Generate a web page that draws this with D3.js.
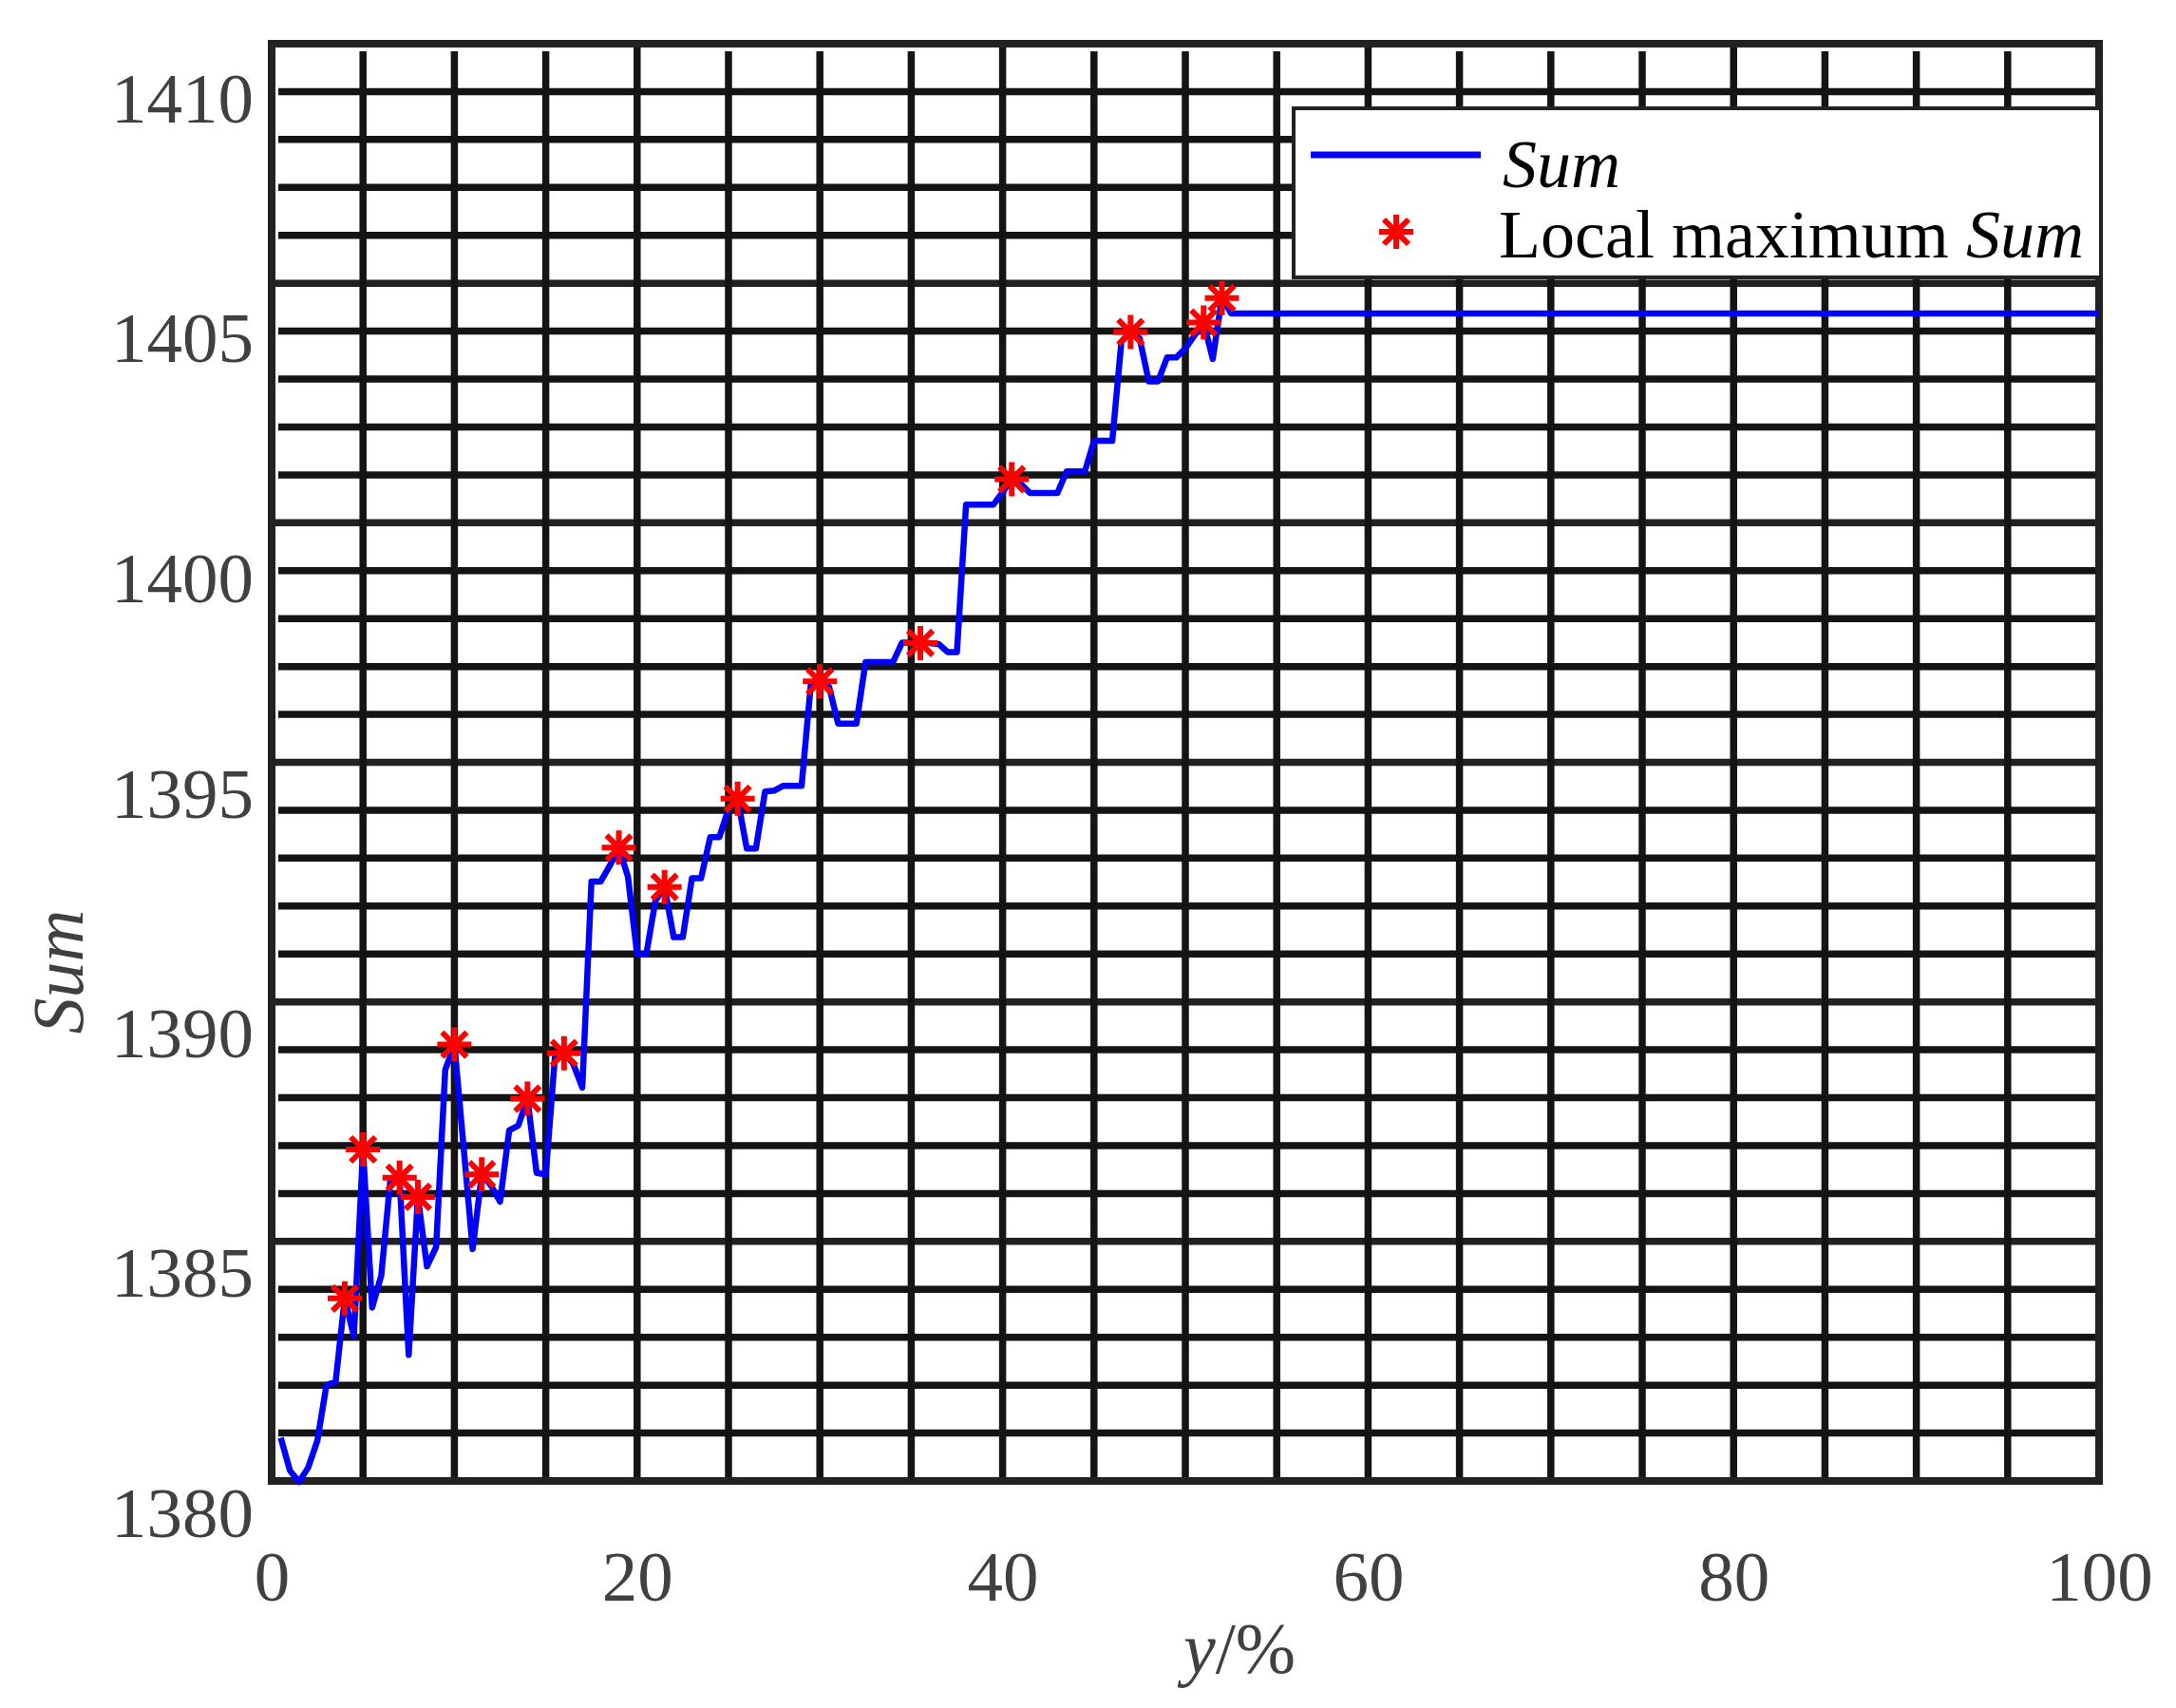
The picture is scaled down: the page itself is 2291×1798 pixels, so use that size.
<!DOCTYPE html>
<html>
<head>
<meta charset="utf-8">
<script src="https://cdn.jsdelivr.net/npm/d3@7"></script>
<style>
  html, body { margin: 0; padding: 0; background: #ffffff; }
  svg { display: block; }
</style>
</head>
<body>
<svg id="chart" width="2291" height="1798"></svg>
<script>
// ---------------- data ----------------
const xValues = [0.5,1,1.5,2,2.5,3,3.5,4,4.5,5,5.5,6,6.5,7,7.5,8,8.5,9,9.5,10,
  10.5,11,11.5,12,12.5,13,13.5,14,14.5,15,15.5,16,16.5,17,17.5,18,18.5,19,19.5,20,
  20.5,21,21.5,22,22.5,23,23.5,24,24.5,25,25.5,26,26.5,27,27.5,28,28.5,29,29.5,30,
  30.5,31,31.5,32,32.5,33,33.5,34,34.5,35,35.5,36,36.5,37,37.5,38,38.5,39,39.5,40,
  40.5,41,41.5,42,42.5,43,43.5,44,44.5,45,45.5,46,46.5,47,47.5,48,48.5,49,49.5,50,
  50.5,51,51.5,52,52.5,100];
const sumValues = [1381.53,1380.85,1380.61,1380.91,1381.47,1382.63,1382.70,1384.44,1383.65,1387.55,
  1384.25,1384.92,1386.93,1386.96,1383.26,1386.56,1385.11,1385.51,1389.21,1389.74,
  1387.62,1385.47,1387.03,1386.80,1386.46,1387.95,1388.05,1388.61,1387.06,1387.03,
  1389.47,1389.56,1389.34,1388.84,1393.14,1393.14,1393.47,1393.85,1393.24,1391.62,
  1391.62,1392.74,1393.03,1391.98,1391.98,1393.21,1393.21,1394.07,1394.07,1394.66,
  1394.87,1393.83,1393.83,1395.02,1395.04,1395.14,1395.14,1395.14,1397.24,1397.32,
  1397.21,1396.44,1396.44,1396.44,1397.72,1397.72,1397.72,1397.72,1398.13,1398.13,
  1398.12,1398.12,1398.10,1397.93,1397.93,1401.01,1401.01,1401.01,1401.01,1401.27,
  1401.54,1401.44,1401.25,1401.25,1401.25,1401.25,1401.70,1401.70,1401.70,1402.34,
  1402.34,1402.34,1404.41,1404.61,1404.48,1403.58,1403.58,1404.08,1404.08,1404.27,
  1404.54,1404.81,1404.05,1405.32,1405.00,1405.00];
const maxX = [4,5,7,8,10,11.5,14,16,19,21.5,25.5,30,35.5,40.5,47,51,52];
const maxValues = [1384.44,1387.55,1386.96,1386.56,1389.74,1387.03,1388.61,1389.56,1393.85,
  1393.03,1394.87,1397.32,1398.12,1401.54,1404.61,1404.81,1405.32];
const xTicks = [0,20,40,60,80,100];
const yTicks = [1380,1385,1390,1395,1400,1405,1410];
const xGrid = [5,10,15,20,25,30,35,40,45,50,55,60,65,70,75,80,85,90,95];
const legendLabels = ["Sum", "Local maximum "];

// ---------------- layout ----------------
const L = 286, R = 2210, T = 46, B = 1559;
const svg = d3.select("#chart");
const x = d3.scaleLinear().domain([0, 100]).range([L, R]);
const y = d3.scaleLinear().domain([1380.63, 1410.63]).range([B, T]);
const gridColor = "#141414";
const borderColor = "#222222";
const serif = "'Liberation Serif', 'Times New Roman', serif";

// horizontal grid (one line per unit of the box)
const yGridVals = d3.range(1, 30).map(k => y.domain()[0] + k);
svg.append("g").selectAll("line").data(yGridVals).join("line")
  .attr("x1", (d, i) => ((i + 1) % 5 === 0) ? L : L + 7)
  .attr("x2", R)
  .attr("y1", d => y(d)).attr("y2", d => y(d))
  .attr("stroke", (d, i) => ((i + 1) % 5 === 0) ? borderColor : gridColor)
  .attr("stroke-width", 7.5);

// vertical grid
svg.append("g").selectAll("line").data(xGrid).join("line")
  .attr("x1", d => x(d)).attr("x2", d => x(d))
  .attr("y1", d => (d % 20 === 0) ? T : T + 8)
  .attr("y2", B)
  .attr("stroke", gridColor)
  .attr("stroke-width", 7.5);

// plot border
svg.append("rect")
  .attr("x", L).attr("y", T).attr("width", R - L).attr("height", B - T)
  .attr("fill", "none").attr("stroke", borderColor).attr("stroke-width", 8);

// axes
const yAxis = d3.axisLeft(y).tickValues(yTicks).tickSize(0).tickPadding(19).tickFormat(d3.format("d"));
const gy = svg.append("g").attr("transform", `translate(${L},0)`).call(yAxis);
gy.select(".domain").remove();
gy.selectAll("text")
  .attr("font-family", serif).attr("font-size", 75).attr("fill", "#404040")
  .attr("dy", d => d >= 1400 ? "0.68em" : "0.35em");

const xAxis = d3.axisBottom(x).tickValues(xTicks).tickSize(0).tickFormat(d3.format("d"));
const gx = svg.append("g").attr("transform", `translate(0,${B})`).call(xAxis);
gx.select(".domain").remove();
gx.selectAll("text")
  .attr("font-family", serif).attr("font-size", 75).attr("fill", "#404040")
  .attr("y", 126).attr("dy", 0);
gy.attr("font-family", null); gx.attr("font-family", null);

// axis titles
svg.append("text")
  .attr("transform", "translate(87,1023) rotate(-90)")
  .attr("text-anchor", "middle")
  .attr("font-family", serif).attr("font-size", 76).attr("font-style", "italic")
  .attr("fill", "#404040")
  .text("Sum");
const xt = svg.append("text")
  .attr("x", 1305).attr("y", 1761)
  .attr("text-anchor", "middle")
  .attr("font-family", serif).attr("font-size", 76).attr("fill", "#404040");
xt.append("tspan").attr("font-style", "italic").text("y");
xt.append("tspan").text("/%");

// data line
const series = xValues.map((v, i) => [v, sumValues[i]]);
svg.append("path")
  .datum(series)
  .attr("fill", "none")
  .attr("stroke", "#0000ff")
  .attr("stroke-width", 6.5)
  .attr("stroke-linejoin", "round")
  .attr("d", d3.line().x(d => x(d[0])).y(d => y(d[1])));

// asterisk marker
function asterisk(r, rd) {
  const p = d3.path();
  p.moveTo(-r, 0); p.lineTo(r, 0);
  p.moveTo(0, -r); p.lineTo(0, r);
  p.moveTo(-rd, -rd); p.lineTo(rd, rd);
  p.moveTo(-rd, rd); p.lineTo(rd, -rd);
  return p.toString();
}
const markerPath = asterisk(18, 13);
const maxima = maxX.map((v, i) => [v, maxValues[i]]);
svg.append("g").selectAll("path").data(maxima).join("path")
  .attr("transform", d => `translate(${x(d[0])},${y(d[1])})`)
  .attr("d", markerPath)
  .attr("fill", "none")
  .attr("stroke", "#ff0000")
  .attr("stroke-width", 6);

// legend
const lg = svg.append("g");
lg.append("rect")
  .attr("x", 1362).attr("y", 114).attr("width", 850).attr("height", 178)
  .attr("fill", "#ffffff").attr("stroke", borderColor).attr("stroke-width", 4);
lg.append("line")
  .attr("x1", 1380).attr("x2", 1559).attr("y1", 163).attr("y2", 163)
  .attr("stroke", "#0000ff").attr("stroke-width", 7);
lg.append("text")
  .attr("x", 1582).attr("y", 197)
  .attr("font-family", serif).attr("font-size", 72).attr("font-style", "italic")
  .attr("fill", "#000000")
  .text(legendLabels[0]);
lg.append("path")
  .attr("transform", "translate(1470,244)")
  .attr("d", markerPath)
  .attr("fill", "none").attr("stroke", "#ff0000").attr("stroke-width", 6);
const lt = lg.append("text")
  .attr("x", 1578).attr("y", 271)
  .attr("font-family", serif).attr("font-size", 72).attr("fill", "#000000");
lt.append("tspan").attr("xml:space", "preserve").text(legendLabels[1]);
lt.append("tspan").attr("font-style", "italic").text(legendLabels[0]);
</script>
</body>
</html>
